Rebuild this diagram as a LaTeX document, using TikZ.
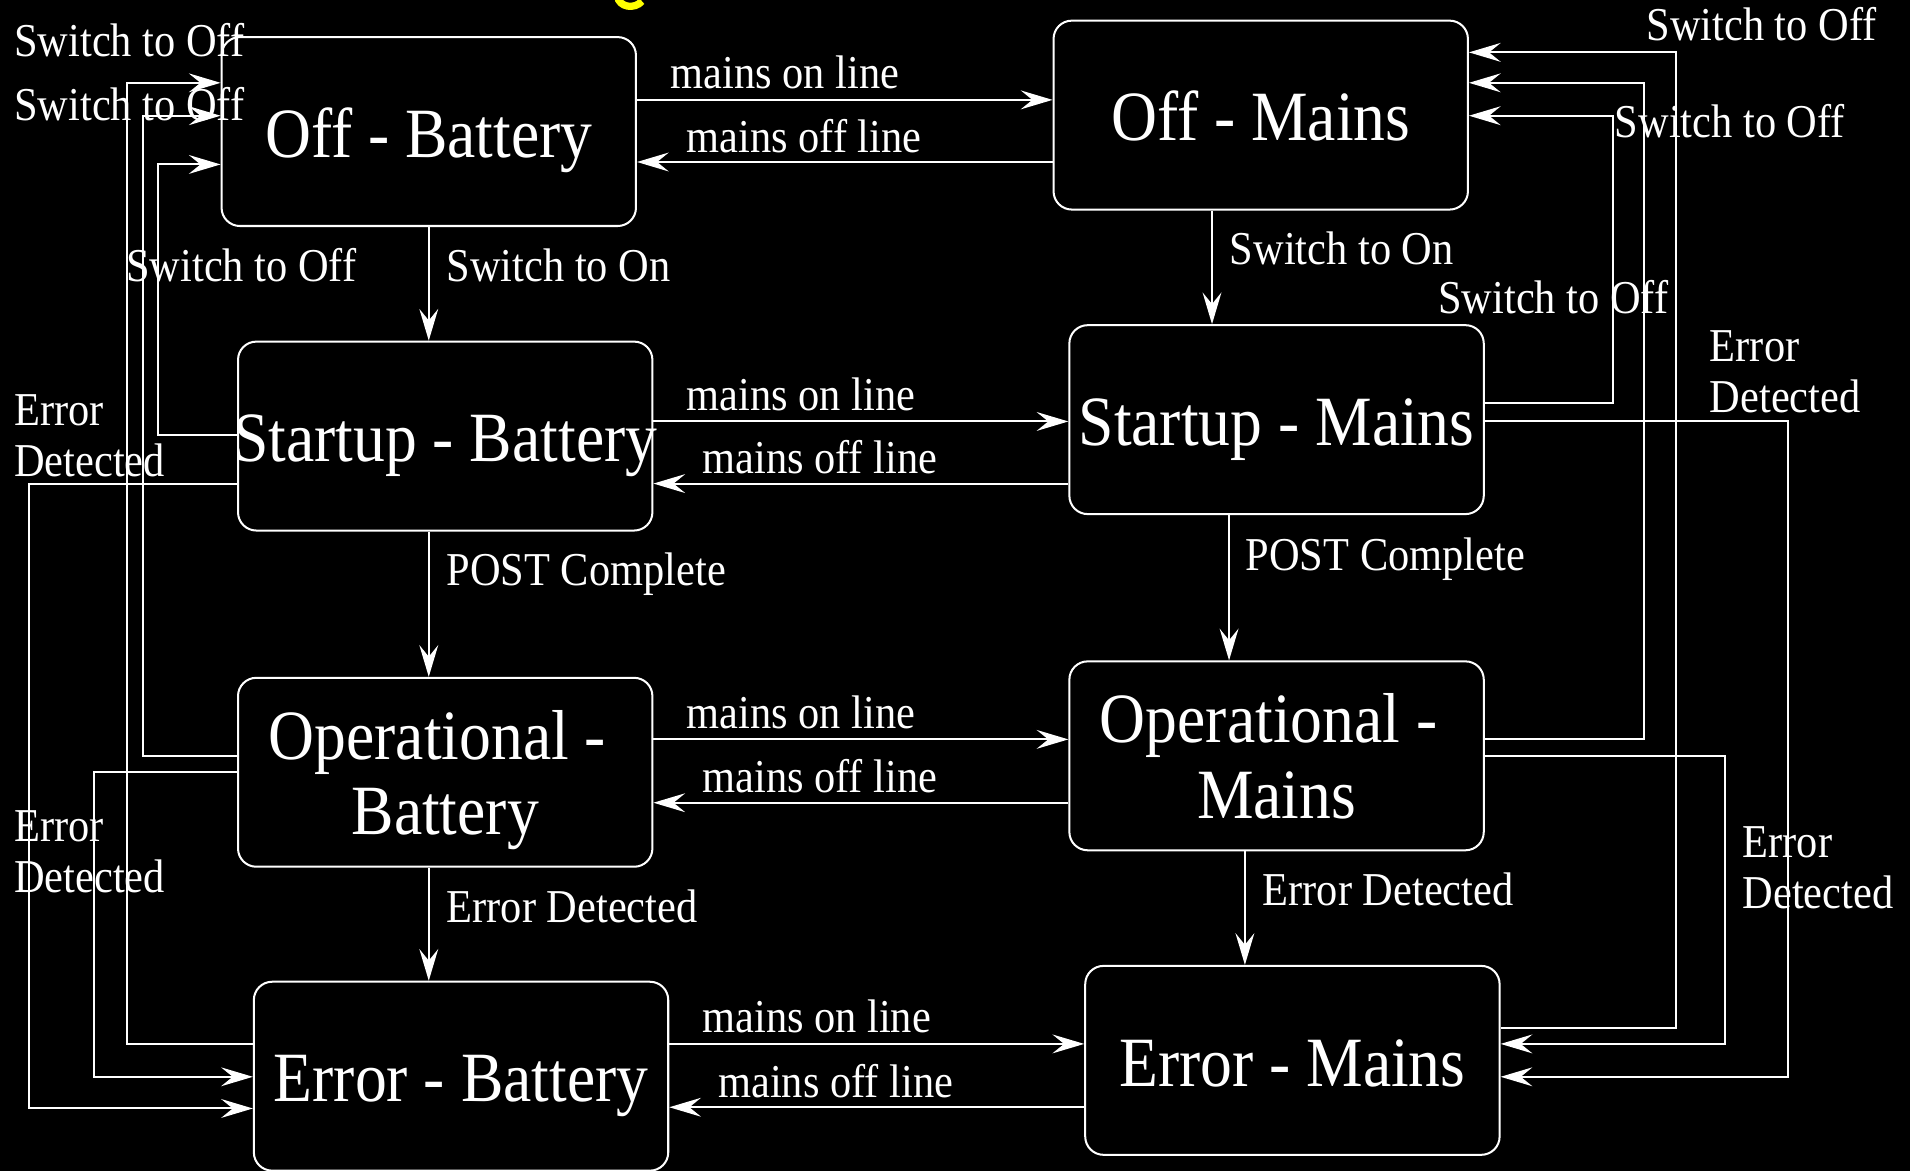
\documentclass[tikz,border=0pt]{standalone}
\usepackage{fontspec}
\setmainfont{Liberation Serif}[FakeStretch=0.9]
\usepackage{tikz}
\usetikzlibrary{arrows.meta}
\definecolor{bgx}{HTML}{000000}
\definecolor{titley}{HTML}{FFFF00}
\newcommand\boxfont{\fontsize{16.5pt}{17.6pt}\selectfont}
\newcommand\lblfont{\fontsize{11pt}{11.95pt}\selectfont}
\tikzset{
  ar/.style={-{Stealth[length=7.4pt,width=4.4pt,inset=2.7pt]},white,line width=0.47pt},
  box/.style={draw=white,line width=0.47pt,rounded corners=0.15cm,minimum width=3.4cm,minimum height=1.55cm,inner sep=0pt,text=white,font=\boxfont,align=center,text depth=0pt,execute at begin node={\rule{0pt}{12pt}}},
  lbl/.style={text=white,font=\lblfont,anchor=base west,inner sep=0pt,align=left}
}
\begin{document}
\begin{tikzpicture}[x=0.01cm,y=-0.01cm]
\fill[bgx] (0,0) rectangle (1568,961);
\useasboundingbox (0,0) rectangle (1568,961);
\draw[titley,line width=1.7pt] (507,-3) .. controls (508,6) and (521,8) .. (527,1);
% states
\node[box] (OffB) at (352,108) {Off - Battery};
\node[box] (OffM) at (1035,94.5) {Off - Mains};
\node[box] (StB) at (365.5,358) {\makebox[0pt]{Startup - Battery}};
\node[box] (StM) at (1048,344.5) {Startup - Mains};
\node[box] (OpB) at (365.5,634) {Operational -\kern3.7pt\\Battery};
\node[box] (OpM) at (1048,620.5) {Operational -\kern3.7pt\\Mains};
\node[box] (ErB) at (378.5,883.5) {Error - Battery};
\node[box] (ErM) at (1061,870.5) {Error - Mains};
% mains on/off line
\foreach \a/\b/\yn/\yf/\xl in {OffB/OffM/82/133/550,StB/StM/346/397/563,OpB/OpM/607/659/563,ErB/ErM/857/909/576}{
  \draw[ar] (\a.east |- 0,\yn) -- (\b.west |- 0,\yn);
  \draw[ar] (\b.west |- 0,\yf) -- (\a.east |- 0,\yf);
  \node[lbl] (on\a) at (\xl,\yn-9) {mains on line};
  \node[lbl] (off\a) at (\xl+13,\yf-8) {mains off line};
}
% down the columns
\draw[ar] (OffB.south) -- (OffB.south |- StB.north);
\draw[ar] (OffB.south |- StB.south) -- (OffB.south |- OpB.north);
\draw[ar] (OffB.south |- OpB.south) -- (OffB.south |- ErB.north);
\draw[ar] (995,0 |- OffM.south) -- (995,0 |- StM.north);
\draw[ar] (1009,0 |- StM.south) -- (1009,0 |- OpM.north);
\draw[ar] (1022,0 |- OpM.south) -- (1022,0 |- ErM.north);
\node[lbl] (onB) at (366,231) {Switch to On};
\node[lbl] (onM) at (1009,217) {Switch to On};
\node[lbl] (postB) at (366,481) {POST Complete};
\node[lbl] (postM) at (1022,468) {POST Complete};
\node[lbl] (errB) at (366,757) {Error Detected};
\node[lbl] (errM) at (1036,743) {Error Detected};
% left side
\draw[ar] (ErB.west |- 0,857) -| (104,68) -- (OffB.west |- 0,68);
\draw[ar] (OpB.west |- 0,621) -| (117,95) -- (OffB.west |- 0,95);
\draw[ar] (StB.west |- 0,357) -| (130,135) -- (OffB.west |- 0,135);
\draw[ar] (StB.west |- 0,397) -| (24,910) -- (ErB.west |- 0,910);
\draw[ar] (OpB.west |- 0,634) -| (77,884) -- (ErB.west |- 0,884);
\node[lbl] (swL1) at (11,46) {Switch to Off};
\node[lbl] (swL2) at (11,99) {Switch to Off};
\node[lbl] (swL3) at (103,231) {Switch to Off};
\node[lbl] (edL1) at (11,391) {Error\\Detected};
\node[lbl] (edL2) at (11,733) {Error\\Detected};
% right side
\draw[ar] (StM.east |- 0,331) -| (1324,95) -- (OffM.east |- 0,95);
\draw[ar] (OpM.east |- 0,607) -| (1350,68) -- (OffM.east |- 0,68);
\draw[ar] (ErM.east |- 0,844) -| (1376,43) -- (OffM.east |- 0,43);
\draw[ar] (StM.east |- 0,346) -| (1468,884) -- (ErM.east |- 0,884);
\draw[ar] (OpM.east |- 0,621) -| (1416,857) -- (ErM.east |- 0,857);
\node[lbl] (swR1) at (1351,33) {Switch to Off};
\node[lbl] (swR2) at (1325,113) {Switch to Off};
\node[lbl] (swR3) at (1180,257) {Switch to Off};
\node[lbl] (edR1) at (1403,339) {Error\\Detected};
\node[lbl] (edR2) at (1430,746) {Error\\Detected};
\end{tikzpicture}
\end{document}
